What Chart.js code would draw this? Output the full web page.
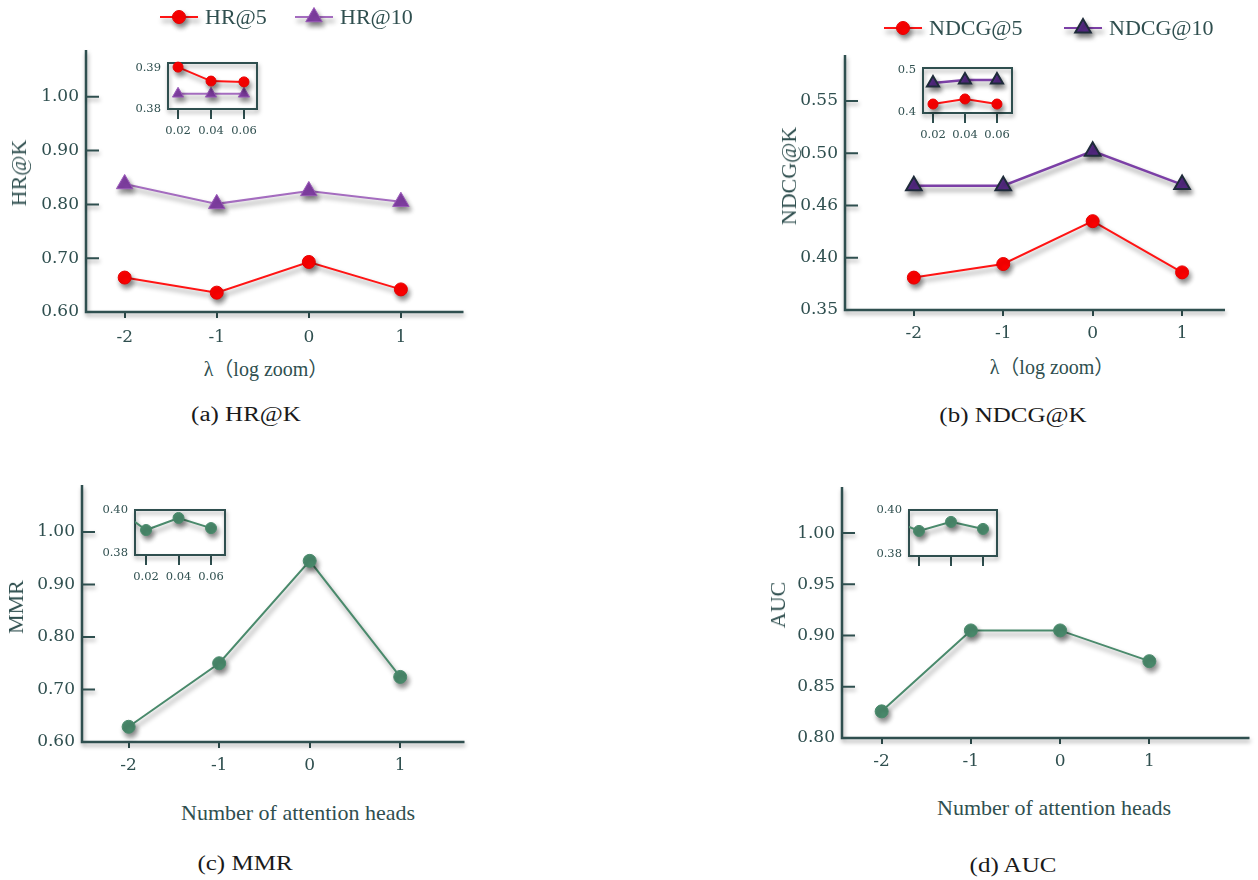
<!DOCTYPE html>
<html>
<head>
<meta charset="utf-8">
<title>HR@K / NDCG@K / MMR / AUC</title>
<script src="https://cdn.jsdelivr.net/npm/chart.js@4.4.1/dist/chart.umd.min.js"></script>
<style>
  body { margin: 0; background: #fff; }
  #fig { position: relative; width: 1258px; height: 880px; overflow: hidden; }
  #fig canvas { position: absolute; }
  .t { position: absolute; white-space: nowrap; line-height: 1; color: #2f4f4f;
       font-family: 'Liberation Serif', 'Noto Sans CJK SC', serif; transform: translate(-50%, -50%); }
  .yt { font-size: 22px; transform: translate(-50%, -50%) rotate(-90deg); }
  .xs { font-size: 20px; }
  .xl { font-size: 22px; }
  .cap { font-size: 20px; color: #1a1a1a; transform: translate(-50%, -50%) scaleX(1.25); }
</style>
</head>
<body>
<div id="fig"></div>
<script>
'use strict';

let fig = document.getElementById('fig');
const ink = '#2f4f4f';

// main x axis
const lambdas = [-2, -1, 0, 1];
const lambdaLabels = ['-2', '-1', '0', '1'];

// main series
const hrNames = ['HR@5', 'HR@10'];
const hr5 = [0.664, 0.636, 0.693, 0.642];
const hr10 = [0.838, 0.801, 0.825, 0.805];
const ndcgNames = ['NDCG@5', 'NDCG@10'];
const ndcg5 = [0.381, 0.394, 0.435, 0.386];
const ndcg10 = [0.469, 0.469, 0.502, 0.470];
const mmr = [0.629, 0.750, 0.945, 0.724];
const auc = [0.826, 0.905, 0.905, 0.875];

// y ticks
const hrTicks = [0.60, 0.70, 0.80, 0.90, 1.00];
const hrTickLabels = ['0.60', '0.70', '0.80', '0.90', '1.00'];
const ndcgTicks = [0.35, 0.40, 0.45, 0.50, 0.55];
const ndcgTickLabels = ['0.35', '0.40', '0.46', '0.50', '0.55'];
const mmrTicks = [0.60, 0.70, 0.80, 0.90, 1.00];
const mmrTickLabels = ['0.60', '0.70', '0.80', '0.90', '1.00'];
const aucTicks = [0.80, 0.85, 0.90, 0.95, 1.00];
const aucTickLabels = ['0.80', '0.85', '0.90', '0.95', '1.00'];

// insets
const insetX = [0.02, 0.04, 0.06];
const insetXLabels = ['0.02', '0.04', '0.06'];
const insetXWide = [0.00, 0.02, 0.04, 0.06];
const hr5Inset = [0.3902, 0.3868, 0.3866];
const hr10Inset = [0.3837, 0.3837, 0.3837];
const ndcg5Inset = [0.419, 0.431, 0.419];
const ndcg10Inset = [0.469, 0.476, 0.476];
const mmrInset = [0.4017, 0.3907, 0.3963, 0.3916];
const aucInset = [0.3963, 0.3905, 0.3946, 0.3914];
const hrInsetTicks = [0.38, 0.39];
const hrInsetLabels = ['0.38', '0.39'];
const ndcgInsetTicks = [0.4, 0.5];
const ndcgInsetLabels = ['0.4', '0.5'];
const smallInsetTicks = [0.38, 0.40];
const smallInsetLabels = ['0.38', '0.40'];

const redStyle = { line: '#ff1414', bg: '#ff0000', border: '#e60000', bw: 1, style: 'circle', r: 6.5 };
const mauveStyle = { line: '#a46cbf', bg: '#8340a6', border: '#9a5ab8', bw: 1, style: 'triangle', r: 9.5 };
const violetStyle = { line: '#7b3fa6', bg: '#5b2d8e', border: '#1e2b3a', bw: 2, style: 'triangle', r: 9, lw: 2.5 };
const greenStyle = { line: '#4a8a6c', bg: '#4a8a6c', border: '#4a8a6c', bw: 1, style: 'circle', r: 6.5 };

function pts(xs, ys) {
  return xs.map((x, i) => ({ x: x, y: ys[i] }));
}

function series(label, xs, ys, st, r, clip) {
  let ds = {
    label: label,
    data: pts(xs, ys),
    borderColor: st.line,
    borderWidth: st.lw || 2,
    backgroundColor: st.bg,
    pointStyle: st.style,
    pointRadius: r || st.r,
    pointBackgroundColor: st.bg,
    pointBorderColor: st.border,
    pointBorderWidth: st.bw,
    tension: 0
  };
  if (clip !== undefined) ds.clip = clip;
  return ds;
}

function addCanvas(left, top, width, height) {
  let c = document.createElement('canvas');
  c.width = width;
  c.height = height;
  c.style.left = left + 'px';
  c.style.top = top + 'px';
  c.style.width = width + 'px';
  c.style.height = height + 'px';
  fig.appendChild(c);
  return c;
}

function addText(text, x, y, cls) {
  let d = document.createElement('div');
  d.className = 't ' + cls;
  d.textContent = text;
  d.style.left = x + 'px';
  d.style.top = y + 'px';
  fig.appendChild(d);
}

function framePlugin(box, innerTicks) {
  return {
    id: 'frame',
    beforeDatasetsDraw(chart) {
      let ctx = chart.ctx;
      let a = chart.chartArea;
      ctx.save();
      ctx.shadowColor = 'rgba(0, 0, 0, 0.35)';
      ctx.shadowBlur = 4;
      ctx.shadowOffsetX = 1;
      ctx.shadowOffsetY = 3;
      ctx.strokeStyle = ink;
      ctx.lineWidth = box ? 2 : 2.5;
      ctx.beginPath();
      if (box) {
        ctx.rect(a.left, a.top, a.right - a.left, a.bottom - a.top);
      } else {
        ctx.moveTo(a.left, a.top);
        ctx.lineTo(a.left, a.bottom);
        ctx.lineTo(a.right, a.bottom);
      }
      ctx.stroke();
      if (innerTicks) {
        let y = chart.scales.y;
        ctx.lineWidth = 2;
        ctx.beginPath();
        y.ticks.forEach((t, i) => {
          if (i === 0) return;
          let py = y.getPixelForValue(t.value);
          ctx.moveTo(a.left, py);
          ctx.lineTo(a.left + innerTicks, py);
        });
        ctx.stroke();
      }
      ctx.restore();
    }
  };
}

const shadowPlugin = {
  id: 'softShadow',
  beforeDatasetsDraw(chart) {
    let ctx = chart.ctx;
    ctx.save();
    ctx.shadowColor = 'rgba(0, 0, 0, 0.45)';
    ctx.shadowBlur = 5;
    ctx.shadowOffsetX = 2;
    ctx.shadowOffsetY = 4;
  },
  afterDatasetsDraw(chart) {
    chart.ctx.restore();
  }
};

function legendPlugin(items, ox, oy) {
  return {
    id: 'lineLegend',
    afterDraw(chart) {
      let ctx = chart.ctx;
      items.forEach(it => {
        let x = it.x - ox;
        let y = it.y - oy;
        ctx.save();
        ctx.shadowColor = 'rgba(0, 0, 0, 0.45)';
        ctx.shadowBlur = 5;
        ctx.shadowOffsetX = 2;
        ctx.shadowOffsetY = 4;
        ctx.strokeStyle = it.st.line;
        ctx.lineWidth = 2;
        ctx.beginPath();
        ctx.moveTo(x, y);
        ctx.lineTo(x + 38, y);
        ctx.stroke();
        ctx.fillStyle = it.st.bg;
        ctx.strokeStyle = it.st.border;
        ctx.lineWidth = it.st.bw;
        Chart.helpers.drawPoint(ctx, { pointStyle: it.st.style, radius: it.st.r, rotation: 0, borderWidth: it.st.bw }, x + 19, y);
        ctx.restore();
        ctx.fillStyle = ink;
        ctx.font = '22px "Liberation Serif"';
        ctx.textBaseline = 'middle';
        ctx.textAlign = 'left';
        ctx.fillText(it.text, x + 45, y + 1);
      });
    }
  };
}

function drawPanel(p) {
  let small = !!p.inset;
  let xh = small ? 32 : 40;
  let pad = small ? 10 : 4;
  let width = p.R + pad - p.cl;
  let height = p.B + xh - p.ct;
  let canvas = addCanvas(p.cl, p.ct, width, height);
  let tickFont = { family: 'DejaVu Serif', size: small ? 11.5 : 17 };
  let plugins = [framePlugin(small, small ? 0 : 13), shadowPlugin];
  if (p.legend) plugins.push(legendPlugin(p.legend, p.cl, p.ct));

  return new Chart(canvas, {
    type: 'line',
    data: { datasets: p.datasets },
    options: {
      responsive: false,
      animation: false,
      events: [],
      layout: { padding: { top: p.T - p.ct, right: pad, bottom: 0, left: 0 } },
      plugins: { legend: { display: false }, tooltip: { enabled: false } },
      scales: {
        x: {
          type: 'linear',
          min: p.xMin,
          max: p.xMax,
          afterBuildTicks: s => { s.ticks = p.xTicks.map(v => ({ value: v })); },
          afterFit: s => { s.height = xh; },
          border: { display: false },
          grid: { drawOnChartArea: false, drawTicks: true, tickLength: small ? 10 : 6, color: ink, lineWidth: 2 },
          ticks: {
            display: p.xLabels !== false,
            font: tickFont,
            color: ink,
            padding: p.xPad,
            maxRotation: 0,
            callback: (v, i) => p.xTickLabels[i]
          }
        },
        y: {
          type: 'linear',
          min: p.yMin,
          max: p.yMax,
          afterBuildTicks: s => { s.ticks = p.yTicks.map(v => ({ value: v })); },
          afterFit: s => { s.width = p.L - p.cl; },
          border: { display: false },
          grid: { display: false, drawTicks: false },
          ticks: {
            font: tickFont,
            color: ink,
            padding: 7,
            callback: (v, i) => p.yTickLabels[i]
          }
        }
      }
    },
    plugins: plugins
  });
}

// (a) HR@K
drawPanel({
  cl: 0, ct: 0, L: 86, R: 470, T: 50, B: 312,
  xMin: -2.42, xMax: 1.68, yMin: 0.60, yMax: 1.087,
  xTicks: lambdas, xTickLabels: lambdaLabels, xPad: 9,
  yTicks: hrTicks, yTickLabels: hrTickLabels,
  datasets: [
    series(hrNames[0], lambdas, hr5, redStyle),
    series(hrNames[1], lambdas, hr10, mauveStyle)
  ],
  legend: [
    { text: hrNames[0], st: redStyle, x: 160, y: 17 },
    { text: hrNames[1], st: mauveStyle, x: 295, y: 17 }
  ]
});

// (b) NDCG@K
drawPanel({
  cl: 760, ct: 0, L: 845, R: 1232, T: 55, B: 310,
  xMin: -2.77, xMax: 1.48, yMin: 0.35, yMax: 0.594,
  xTicks: lambdas, xTickLabels: lambdaLabels, xPad: 7,
  yTicks: ndcgTicks, yTickLabels: ndcgTickLabels,
  datasets: [
    series(ndcgNames[0], lambdas, ndcg5, redStyle),
    series(ndcgNames[1], lambdas, ndcg10, violetStyle)
  ],
  legend: [
    { text: ndcgNames[0], st: redStyle, x: 884, y: 28 },
    { text: ndcgNames[1], st: violetStyle, x: 1064, y: 28 }
  ]
});

// (c) MMR
drawPanel({
  cl: 0, ct: 460, L: 82, R: 468, T: 485, B: 742,
  xMin: -2.515, xMax: 1.71, yMin: 0.60, yMax: 1.0895,
  xTicks: lambdas, xTickLabels: lambdaLabels, xPad: 7,
  yTicks: mmrTicks, yTickLabels: mmrTickLabels,
  datasets: [series('MMR', lambdas, mmr, greenStyle)]
});

// (d) AUC
drawPanel({
  cl: 760, ct: 460, L: 842, R: 1253, T: 487, B: 738,
  xMin: -2.444, xMax: 2.122, yMin: 0.80, yMax: 1.045,
  xTicks: lambdas, xTickLabels: lambdaLabels, xPad: 7,
  yTicks: aucTicks, yTickLabels: aucTickLabels,
  datasets: [series('AUC', lambdas, auc, greenStyle)]
});

// insets
drawPanel({
  inset: true, cl: 123, ct: 47, L: 168, R: 257, T: 63, B: 109,
  xMin: 0.0139, xMax: 0.0679, yMin: 0.38, yMax: 0.3912,
  xTicks: insetX, xTickLabels: insetXLabels, xPad: 5,
  yTicks: hrInsetTicks, yTickLabels: hrInsetLabels,
  datasets: [
    series(hrNames[0], insetX, hr5Inset, redStyle, 5, false),
    series(hrNames[1], insetX, hr10Inset, mauveStyle, 6.5, false)
  ]
});

drawPanel({
  inset: true, cl: 878, ct: 52, L: 923, R: 1012, T: 68, B: 113,
  xMin: 0.01375, xMax: 0.0694, yMin: 0.3976, yMax: 0.5048,
  xTicks: insetX, xTickLabels: insetXLabels, xPad: 5,
  yTicks: ndcgInsetTicks, yTickLabels: ndcgInsetLabels,
  datasets: [
    series(ndcgNames[0], insetX, ndcg5Inset, redStyle, 5, false),
    series(ndcgNames[1], insetX, ndcg10Inset, violetStyle, 7, false)
  ]
});

drawPanel({
  inset: true, cl: 90, ct: 494, L: 135, R: 225, T: 510, B: 555,
  xMin: 0.0132, xMax: 0.0686, yMin: 0.3791, yMax: 0.40,
  xTicks: insetX, xTickLabels: insetXLabels, xPad: 5,
  yTicks: smallInsetTicks, yTickLabels: smallInsetLabels,
  datasets: [series('MMR', insetXWide, mmrInset, greenStyle, 5.5, { left: 0, top: 10, right: 10, bottom: 10 })]
});

drawPanel({
  inset: true, cl: 864, ct: 494, L: 909, R: 997, T: 510, B: 556,
  xMin: 0.01375, xMax: 0.06875, yMin: 0.3791, yMax: 0.40,
  xTicks: insetX, xTickLabels: insetXLabels, xPad: 5, xLabels: false,
  yTicks: smallInsetTicks, yTickLabels: smallInsetLabels,
  datasets: [series('AUC', insetXWide, aucInset, greenStyle, 5.5, { left: 0, top: 10, right: 10, bottom: 10 })]
});

// axis titles and captions
addText('HR@K', 19, 173, 'yt');
addText('NDCG@K', 789, 176, 'yt');
addText('MMR', 16, 607, 'yt');
addText('AUC', 778, 605, 'yt');

addText('λ（log zoom）', 266, 369, 'xs');
addText('λ（log zoom）', 1052, 367, 'xs');
addText('Number of attention heads', 298, 813, 'xl');
addText('Number of attention heads', 1054, 808, 'xl');

addText('(a) HR@K', 246, 414, 'cap');
addText('(b) NDCG@K', 1013, 415, 'cap');
addText('(c) MMR', 245, 863, 'cap');
addText('(d) AUC', 1013, 865, 'cap');
</script>
</body>
</html>
